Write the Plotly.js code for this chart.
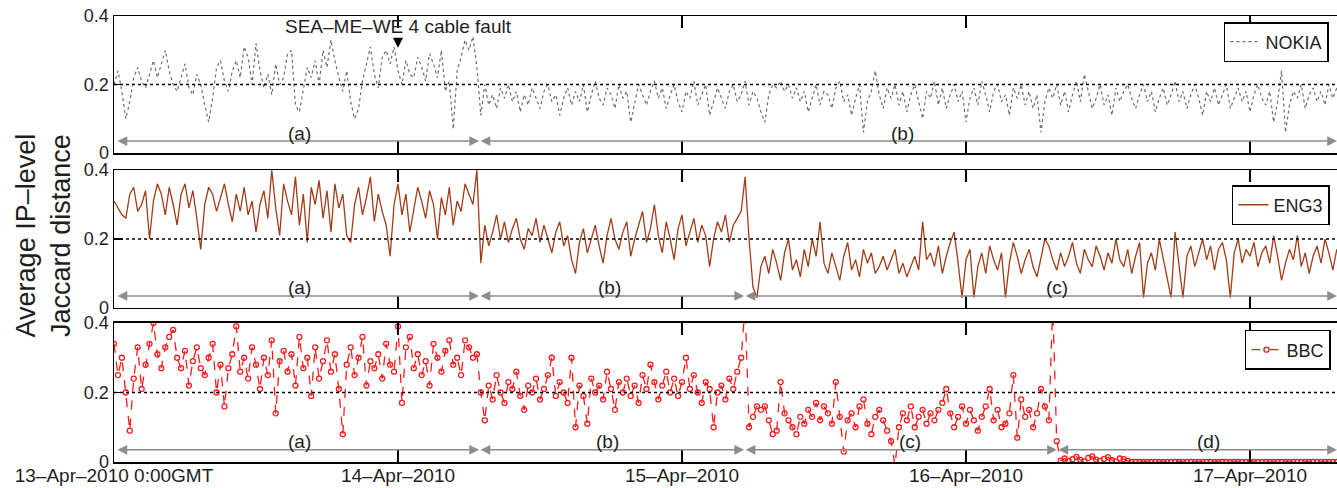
<!DOCTYPE html>
<html>
<head>
<meta charset="utf-8">
<script src="https://cdn.plot.ly/plotly-3.0.1.min.js"></script>
<style>
html,body{margin:0;padding:0;overflow:hidden;background:#fff;}
#chart{width:1360px;height:488px;}
</style>
</head>
<body>
<div id="chart"></div>
<script>
// ---- time base (20-minute samples starting 13-Apr-2010 00:00 GMT) ----
const START = '2010-04-13T00:00:00Z';
const STEP_MIN = 20;

// ---- x tick labels ----
const dayTicks = ['2010-04-13 00:00','2010-04-14 00:00','2010-04-15 00:00','2010-04-16 00:00','2010-04-17 00:00'];
const dayLabels = ['13\u2013Apr\u20132010 0:00GMT','14\u2013Apr\u20132010','15\u2013Apr\u20132010','16\u2013Apr\u20132010','17\u2013Apr\u20132010'];

// ---- NOKIA (dotted) ----
const nokiaA = [
.2,.24,.18,.1,.15,.22,.25,.21,.19,.23,.27,.22,
.26,.3,.24,.2,.18,.22,.26,.19,.17,.23,.2,.14,
.09,.16,.25,.27,.21,.18,.24,.27,.22,.31,.28,.2,
.32,.24,.19,.23,.17,.26,.2,.22,.29,.3,.14,.12,
.19,.25,.22,.27,.2,.3,.25,.33,.27,.22,.18,.24,
.15,.1,.13,.21,.26,.31,.23,.19,.28,.3,.26,.31,
.24,.2,.27,.23,.22,.28,.25,.21,.29,.26,.22,.3,
.18,.21,.07,.24,.28,.33,.3,.34,.25];
const nokiaB = [
.11,.2,.14,.17,.13,.19,.16,.2,.15,.18,.12,.17,
.14,.19,.16,.13,.18,.2,.15,.17,.11,.16,.19,.14,
.18,.15,.2,.12,.17,.21,.16,.14,.19,.17,.13,.2,
.16,.18,.09,.15,.2,.17,.14,.18,.21,.16,.19,.13,
.17,.2,.15,.12,.18,.16,.21,.14,.17,.2,.11,.15,
.19,.16,.13,.18,.2,.15,.17,.21,.14,.18,.16,.12,
.09,.17,.2,.19,.21,.18,.2,.16,.19,.15,.18,.12,
.16,.2,.14,.18,.17,.13,.19,.21,.15,.17,.11,.16,
.2,.06,.15,.18,.24,.17,.13,.19,.16,.2,.14,.18,
.12,.17,.2,.15,.1,.18,.16,.21,.14,.19,.13,.17,
.2,.15,.18,.09,.16,.19,.14,.21,.17,.12,.18,.2,
.15,.17,.11,.19,.16,.2,.14,.18,.13,.17,.06,.15,
.19,.16,.2,.14,.18,.12,.17,.21,.15,.23,.18,.13,
.16,.2,.14,.17,.11,.19,.15,.18,.2,.16,.13,.17,
.2,.15,.18,.12,.16,.19,.14,.17,.21,.15,.18,.13,
.17,.2,.16,.11,.18,.15,.19,.14,.17,.2,.13,.16,
.19,.15,.18,.12,.17,.2,.16,.14,.18,.09,.15,.24,
.06,.14,.18,.16,.2,.13,.17,.19,.15,.18,.14,.2,
.16,.19,.15,.18,.17];

// ---- ENG3 (solid) ----
const eng3A = [
.31,.29,.27,.26,.33,.35,.28,.3,.34,.2,.31,.36,
.33,.27,.35,.3,.24,.33,.36,.29,.34,.26,.17,.3,
.35,.33,.28,.32,.36,.3,.25,.33,.28,.35,.27,.31,
.22,.3,.34,.26,.4,.29,.21,.36,.31,.27,.38,.24,
.33,.19,.35,.3,.37,.26,.34,.22,.36,.29,.33,.21,
.19,.3,.35,.27,.32,.38,.25,.33,.28,.24,.15,.3,
.36,.27,.33,.22,.29,.35,.31,.26,.34,.3,.2,.32,
.27,.35,.24,.31,.28,.36,.33,.3,.4];
const eng3B = [
.13,.24,.18,.22,.27,.2,.25,.19,.23,.26,.2,.17,
.23,.21,.26,.19,.24,.2,.16,.22,.25,.18,.21,.14,
.1,.19,.23,.16,.2,.24,.18,.13,.21,.26,.2,.17,
.22,.25,.15,.2,.24,.28,.19,.23,.3,.21,.16,.25,
.2,.14,.23,.27,.18,.22,.26,.19,.24,.21,.12,.2,
.25,.22,.27,.19,.24,.26,.28,.38];
const eng3C = [
.2,.06,.03,.12,.15,.1,.17,.13,.08,.16,.2,.11,
.14,.09,.17,.12,.2,.15,.25,.13,.1,.16,.12,.08,
.15,.19,.11,.14,.09,.17,.13,.16,.1,.12,.15,.11,
.14,.17,.1,.13,.09,.12,.15,.11,.25,.14,.16,.12,
.18,.1,.15,.19,.22,.13,.03,.14,.17,.03,.12,.16,
.1,.18,.14,.11,.16,.03,.13,.19,.15,.1,.14,.17,
.12,.09,.15,.2,.18,.14,.11,.16,.12,.15,.19,.13,
.1,.17,.14,.12,.18,.15,.11,.16,.13,.2,.14,.12,
.17,.1,.15,.19,.03,.13,.16,.11,.2,.14,.09,.03,
.22,.13,.03,.15,.18,.12,.16,.2,.14,.18,.11,.17,
.19,.14,.03,.16,.2,.13,.17,.15,.19,.12,.16,.18,
.13,.21,.15,.08,.13,.17,.14,.21,.12,.16,.1,.15,
.18,.13,.2,.16,.11,.17,.14,.19,.12];

// ---- BBC (dashed with markers) ----
const bbcA = [
.34,.25,.3,.2,.09,.24,.33,.21,.28,.34,.4,.31,
.27,.33,.36,.38,.3,.27,.32,.22,.29,.33,.27,.25,
.3,.34,.2,.28,.16,.27,.31,.39,.26,.3,.24,.33,
.28,.21,.3,.25,.35,.14,.29,.32,.26,.31,.22,.36,
.27,.3,.19,.33,.24,.29,.35,.26,.31,.21,.08,.28,
.33,.25,.3,.36,.22,.29,.27,.31,.24,.34,.28,.26,
.39,.17,.33,.36,.27,.31,.25,.29,.22,.34,.3,.26,
.32,.35,.28,.3,.25,.35,.33,.3,.31];
const bbcB = [
.2,.12,.22,.18,.25,.2,.17,.23,.21,.26,.19,.15,
.22,.2,.24,.18,.21,.25,.3,.19,.23,.2,.17,.3,
.1,.22,.19,.11,.24,.2,.22,.18,.26,.21,.15,.23,
.2,.24,.19,.22,.17,.25,.21,.28,.23,.18,.22,.26,
.2,.24,.19,.23,.3,.21,.25,.2,.17,.23,.21,.1,
.2,.22,.18,.24,.21,.26,.3,.45];
const bbcC = [
.1,.13,.16,.15,.16,.12,.08,.09,.23,.14,.12,.1,
.08,.13,.11,.15,.13,.17,.12,.16,.14,.11,.23,.13,
.03,.12,.14,.1,.16,.18,.11,.08,.13,.15,.12,.09,
.06,-.01,.1,.14,.12,.16,.1,.13,.15,.11,.14,.12,
.15,.17,.21,.14,.1,.13,.16,.11,.15,.12,.09,.13,
.16,.21,.12,.15,.1,.11,.14,.25,.07,.18,.13,.15,
.1,.14,.21,.16,.12,.45,.06];
const bbcD = [
.004,.01,.003,.008,.015,.006,.002,.012,.016,.007,.003,.009,
.014,.005,.002,.01,.008,.003,0,0,0,0,0,0,
0,0,0,0,0,0,0,0,0,0,0,0,
0,0,0,0,0,0,0,0,0,0,0,0,
0,0,0,0,0,0,0,0,0,0,0,0,
0,0,0,0,0,0,0,0,0,0,0,0,
0,0];

// ---- period segments (arrows) ----
const nokiaEdges = ['2010-04-13 00:10','2010-04-14 06:51','2010-04-17 07:21'];
const nokiaLabels = ['(a)','(b)'];
const nokiaLabelAt = ['2010-04-13 15:43','2010-04-15 18:40'];
const eng3Edges = ['2010-04-13 00:10','2010-04-14 06:51','2010-04-15 05:15','2010-04-17 07:21'];
const eng3Labels = ['(a)','(b)','(c)'];
const eng3LabelAt = ['2010-04-13 15:43','2010-04-14 17:54','2010-04-16 07:41'];
const bbcEdges = ['2010-04-13 00:10','2010-04-14 06:51','2010-04-15 05:15','2010-04-16 07:41','2010-04-17 07:21'];
const bbcLabels = ['(a)','(b)','(c)','(d)'];
const bbcLabelAt = ['2010-04-13 15:43','2010-04-14 17:44','2010-04-15 19:16','2010-04-16 20:27'];

// ---------------------------------------------------------------
const FONT = 'Liberation Sans, Arial, Helvetica, sans-serif';
const TXT = '#1e1e1e';
const ARROW_Y = 0.035;

function times(n){
  const t0 = Date.parse(START);
  const out = [];
  for (let i=0;i<n;i++){
    out.push(new Date(t0 + i*STEP_MIN*60000).toISOString().slice(0,16).replace('T',' '));
  }
  return out;
}

const nokia = nokiaA.concat(nokiaB);
const eng3 = eng3A.concat(eng3B, eng3C);
const bbc = bbcA.concat(bbcB, bbcC, bbcD);

const traces = [
  {x: times(nokia.length), y: nokia, name:'NOKIA', type:'scatter', mode:'lines',
   line:{color:'#6e6e6e', width:1.2, dash:'dot'}, xaxis:'x', yaxis:'y', legend:'legend'},
  {x: times(eng3.length), y: eng3, name:'ENG3', type:'scatter', mode:'lines',
   line:{color:'#a23c16', width:1.3}, xaxis:'x2', yaxis:'y2', legend:'legend2'},
  {x: times(bbc.length), y: bbc, name:'BBC', type:'scatter', mode:'lines+markers',
   line:{color:'#ff1a1a', width:1.3, dash:'dash'},
   marker:{symbol:'circle-open', size:5, color:'#ff1a1a', line:{width:1.3}},
   xaxis:'x3', yaxis:'y3', legend:'legend3'}
];

function segAnnots(edges, labels, labelAt, xr, yr){
  const out = [];
  for (let i=0;i<labels.length;i++){
    out.push({xref:xr, yref:yr, axref:xr, ayref:yr, x:edges[i+1], y:ARROW_Y, ax:edges[i], ay:ARROW_Y,
      text:'', showarrow:true, arrowside:'end+start', arrowhead:2, startarrowhead:2,
      arrowsize:1.3, startarrowsize:1.3, arrowwidth:1.5, arrowcolor:'#8c8c8c', standoff:0, startstandoff:0});
    out.push({xref:xr, yref:yr, x:labelAt[i], y:ARROW_Y, yshift:8, text:labels[i], showarrow:false,
      font:{family:FONT, size:19, color:TXT}});
  }
  return out;
}

const annotations = [].concat(
  segAnnots(nokiaEdges, nokiaLabels, nokiaLabelAt, 'x', 'y'),
  segAnnots(eng3Edges, eng3Labels, eng3LabelAt, 'x2', 'y2'),
  segAnnots(bbcEdges, bbcLabels, bbcLabelAt, 'x3', 'y3'),
  [
    {xref:'x', yref:'y', x:'2010-04-14 00:00', y:0.307, ax:0, ay:-21, text:'SEA\u2013ME\u2013WE 4 cable fault',
     showarrow:true, arrowhead:2, arrowsize:1, arrowwidth:2, arrowcolor:'#000', standoff:0,
     font:{family:FONT, size:19, color:TXT}},
    {xref:'paper', yref:'paper', x:-0.057, y:0.507, xanchor:'center', yanchor:'middle', textangle:-90,
     text:'Average IP\u2013level<br>Jaccard distance', showarrow:false,
     font:{family:FONT, size:27, color:TXT}}
  ]
);

const refLine = (yr) => ({type:'line', xref:'paper', x0:0, x1:1, yref:yr, y0:0.2, y1:0.2,
  line:{color:'#000', width:1.5, dash:'dot'}});

const xBase = (showLabels) => ({
  type:'date', range:['2010-04-13 00:00','2010-04-17 08:27'],
  tickmode:'array', tickvals:dayTicks, ticktext:dayLabels, showticklabels:showLabels,
  ticks:'inside', ticklen:12, tickwidth:1.3, tickcolor:'#000', ticklabelstandoff:-4,
  showline:true, linecolor:'#000', linewidth:1.5, mirror:'ticks',
  showgrid:false, zeroline:false, tickfont:{family:FONT, size:19, color:TXT}
});
const yBase = (dom) => ({
  domain:dom, range:[0,0.4], tickmode:'array', tickvals:[0,0.2,0.4], ticktext:['0','0.2','0.4'],
  ticks:'inside', ticklen:9, tickwidth:1.3, tickcolor:'#000',
  showline:true, linecolor:'#000', linewidth:1.5, mirror:'ticks',
  showgrid:false, zeroline:false, tickfont:{family:FONT, size:18, color:TXT}
});
const legBase = (x, y) => ({x:x, y:y, xref:'paper', yref:'paper', xanchor:'left', yanchor:'top',
  bgcolor:'#fff', bordercolor:'#000', borderwidth:1.5, font:{family:FONT, size:18, color:TXT}});

const layout = {
  width:1360, height:488,
  margin:{l:114, r:10, t:16, b:26},
  paper_bgcolor:'#fff', plot_bgcolor:'#fff',
  font:{family:FONT, color:TXT},
  xaxis: Object.assign(xBase(false), {anchor:'y'}),
  xaxis2: Object.assign(xBase(false), {anchor:'y2', matches:'x'}),
  xaxis3: Object.assign(xBase(true), {anchor:'y3', matches:'x'}),
  yaxis: Object.assign(yBase([0.6928,1]), {anchor:'x'}),
  yaxis2: Object.assign(yBase([0.3453,0.6547]), {anchor:'x2'}),
  yaxis3: Object.assign(yBase([0,0.3117]), {anchor:'x3'}),
  showlegend:true,
  legend: legBase(0.898, 0.9865),
  legend2: legBase(0.9045, 0.621),
  legend3: legBase(0.915, 0.296),
  shapes:[refLine('y'), refLine('y2'), refLine('y3')],
  annotations: annotations
};

Plotly.newPlot('chart', traces, layout, {displayModeBar:false, staticPlot:true});
</script>
</body>
</html>
